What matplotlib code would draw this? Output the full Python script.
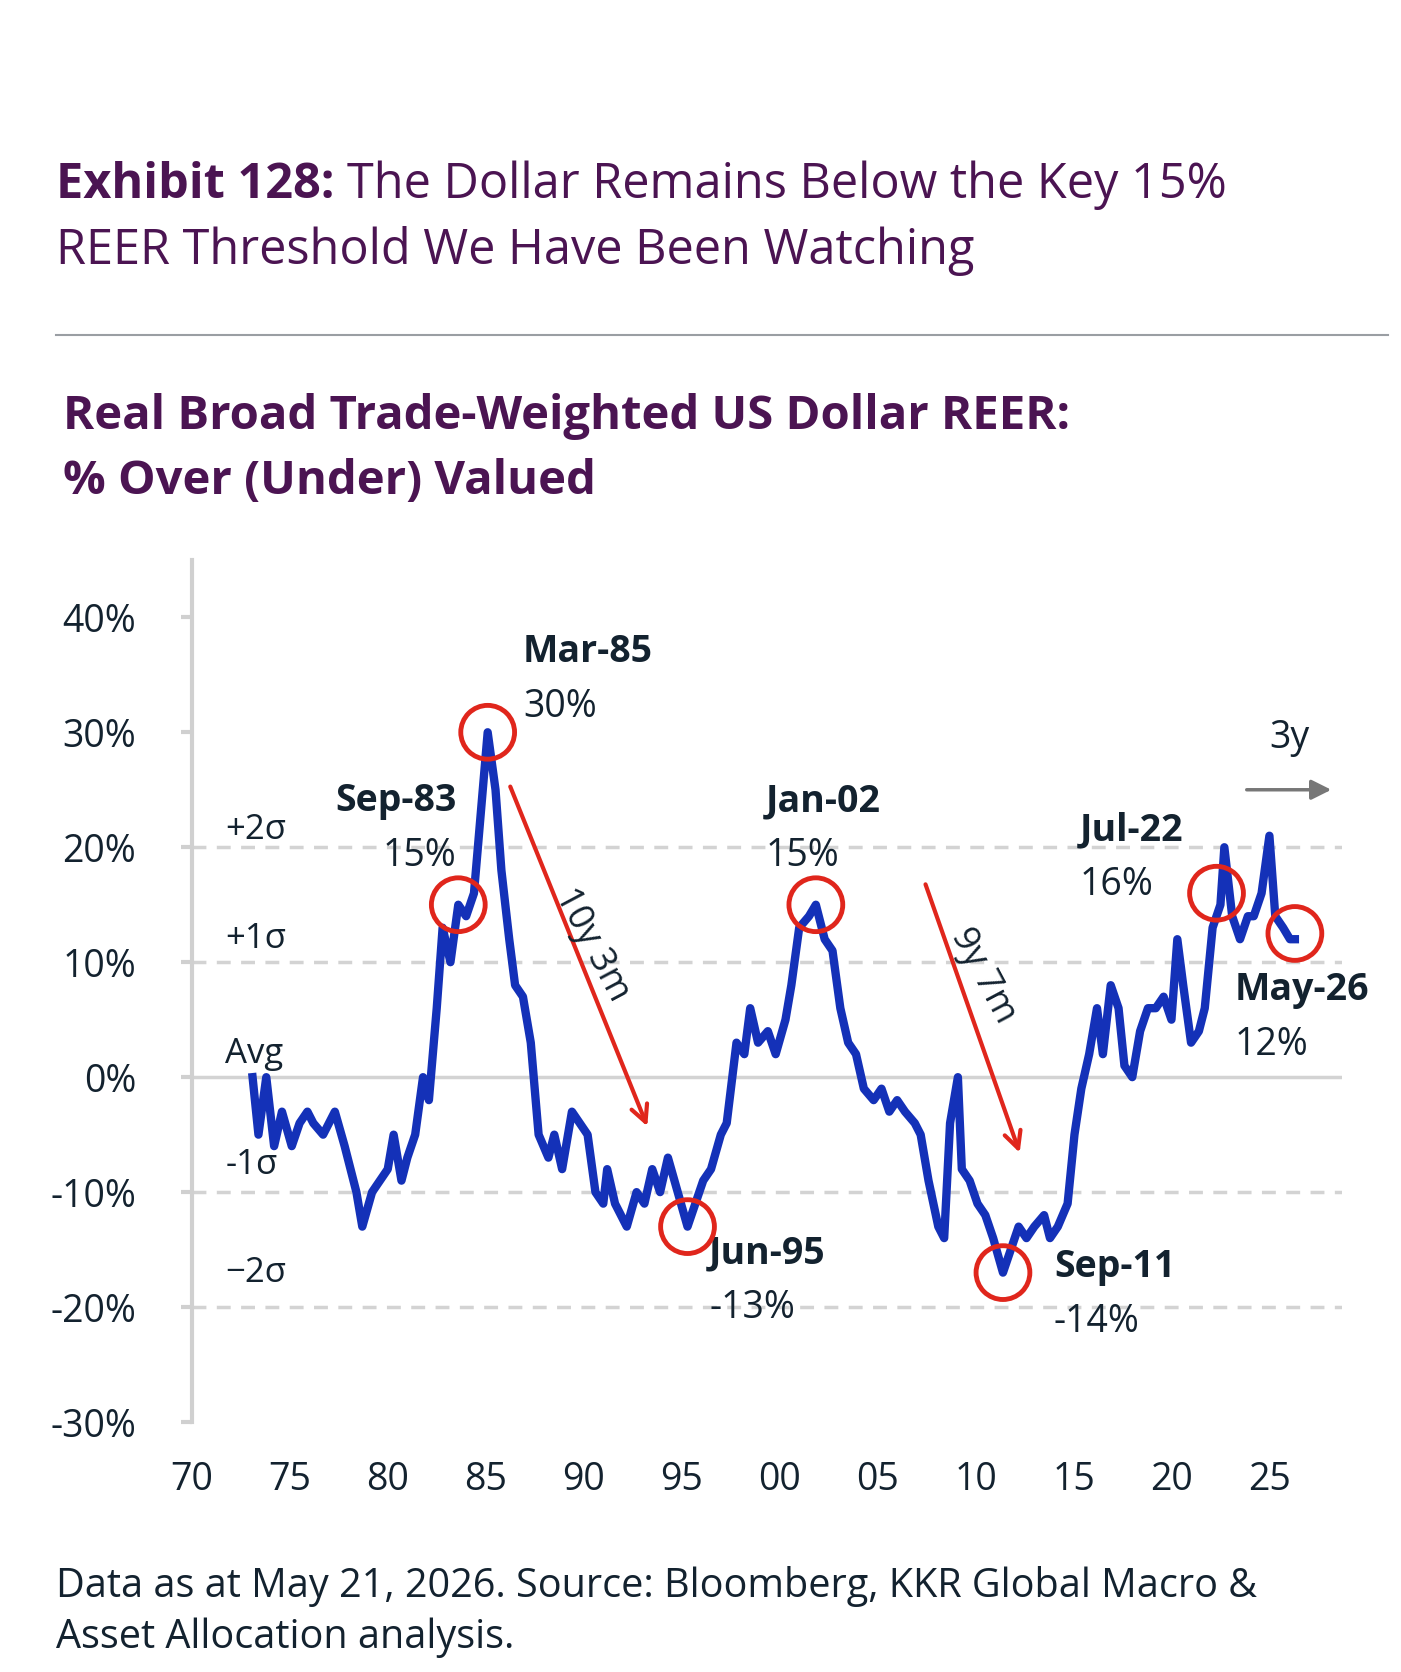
import matplotlib
matplotlib.use("Agg")
import matplotlib.pyplot as plt

years = [73.1,73.4,73.8,74.2,74.6,75.1,75.5,75.9,76.2,76.7,77.3,77.8,78.4,78.7,79.2,79.6,80.0,80.3,80.7,81.0,81.4,81.8,82.1,82.5,82.8,83.2,83.6,84.0,84.4,84.7,85.1,85.5,85.8,86.2,86.5,86.9,87.3,87.7,88.2,88.5,88.9,89.4,89.8,90.2,90.6,91.0,91.2,91.6,92.2,92.7,93.1,93.5,93.9,94.3,94.8,95.3,95.7,96.1,96.5,97.0,97.3,97.8,98.2,98.5,98.9,99.4,99.8,100.3,100.6,101.0,101.5,101.85,102.3,102.7,103.1,103.5,103.9,104.3,104.8,105.2,105.6,106.0,106.4,106.9,107.2,107.6,108.1,108.4,108.7,109.1,109.3,109.7,110.1,110.5,110.9,111.4,111.8,112.2,112.6,113.0,113.5,113.8,114.2,114.7,115.05,115.4,115.8,116.2,116.5,116.9,117.3,117.6,118.0,118.4,118.8,119.2,119.6,120.0,120.3,120.6,121.0,121.4,121.7,122.1,122.5,122.7,123.1,123.5,123.9,124.2,124.6,125.0,125.3,125.7,126.05,126.3]
values = [0,-5,0,-6,-3,-6,-4,-3,-4,-5,-3,-6,-10,-13,-10,-9,-8,-5,-9,-7,-5,0,-2,6,13,10,15,14,16,22,30,25,18,12,8,7,3,-5,-7,-5,-8,-3,-4,-5,-10,-11,-8,-11,-13,-10,-11,-8,-10,-7,-10,-13,-11,-9,-8,-5,-4,3,2,6,3,4,2,5,8,13,14,15,12,11,6,3,2,-1,-2,-1,-3,-2,-3,-4,-5,-9,-13,-14,-4,0,-8,-9,-11,-12,-14,-17,-15,-13,-14,-13,-12,-14,-13,-11,-5,-1,2,6,2,8,6,1,0,4,6,6,7,5,12,8,3,4,6,13,15,20,14,12,14,14,16,21,14,13,12,12]
dates = [1900 + y for y in years]

yticks = [40, 30, 20, 10, 0, -10, -20, -30]
xtick_years = [1970,1975,1980,1985,1990,1995,2000,2005,2010,2015,2020,2025]
xtick_labels = ["70","75","80","85","90","95","00","05","10","15","20","25"]
sigma_labels = [("+2σ", 21.5), ("+1σ", 12), ("Avg", 2), ("-1σ", -7.6), ("−2σ", -17)]
circle_x = [1983.6, 1985.1, 1995.3, 2001.85, 2011.4, 2022.3, 2026.3]
circle_y = [15, 30, -13, 15, -17, 16, 12.5]
callout_labels = ["Sep-83", "Mar-85", "Jun-95", "Jan-02", "Sep-11", "Jul-22", "May-26"]
callout_values = ["15%", "30%", "-13%", "15%", "-14%", "16%", "12%"]

plt.rcParams['font.family'] = ['Open Sans', 'DejaVu Sans']
W, H = 1300, 1552
fig = plt.figure(figsize=(14.01, 16.72), dpi=100)
purple = "#4b1452"
dark = "#13222f"

def fx(px): return px / W
def fy(py): return 1 - py / H

t1 = fig.text(fx(52), fy(172), "Exhibit 128:", fontsize=35, fontweight='bold', color=purple, va='center')
r = fig.canvas.get_renderer()
bb = t1.get_window_extent(r)
fig.text((bb.x1 + 12) / fig.bbox.width, fy(172), "The Dollar Remains Below the Key 15%", fontsize=35, color=purple, va='center')
fig.text(fx(52), fy(233), "REER Threshold We Have Been Watching", fontsize=35, color=purple, va='center')
fig.add_artist(plt.Line2D([fx(52), fx(1288)], [fy(311), fy(311)], color="#9a9ea3", lw=1.5))
fig.text(fx(58), fy(387), "Real Broad Trade-Weighted US Dollar REER:", fontsize=34, fontweight='bold', color=purple, va='center')
fig.text(fx(58), fy(447), "% Over (Under) Valued", fontsize=34, fontweight='bold', color=purple, va='center')
fig.text(fx(52), fy(1473), "Data as at May 21, 2026. Source: Bloomberg, KKR Global Macro &", fontsize=28.5, color=dark, va='center')
fig.text(fx(52), fy(1520), "Asset Allocation analysis.", fontsize=28.5, color=dark, va='center')

ax = fig.add_axes([fx(178), fy(1320), fx(1245) - fx(178), fy(520) - fy(1320)])
xmin = 1970
xmax = 1970 + (1245 - 178) / 18.18
ax.set_xlim(xmin, xmax)
ax.set_ylim(-30, 40 + (573 - 520) / 10.67)
for s in ['top', 'right', 'bottom']:
    ax.spines[s].set_visible(False)
ax.spines['left'].set_color("#d0d0d0")
ax.spines['left'].set_linewidth(3)
ax.set_yticks(yticks)
ax.set_yticklabels([f"{v}%" for v in yticks], fontsize=27, color=dark)
ax.tick_params(axis='y', length=8, width=3, color="#d0d0d0", pad=32)
ax.set_xticks(xtick_years)
ax.set_xticklabels(xtick_labels, fontsize=27, color=dark)
ax.tick_params(axis='x', length=0, pad=28)

for lvl in [20, 10, -10, -20]:
    ax.axhline(lvl, color="#d3d3d3", lw=2.5, ls=(0, (4, 3)), zorder=1)
ax.axhline(0, color="#d3d3d3", lw=2.5, zorder=1)
for t, v in sigma_labels:
    ax.text(1971.7, v, t, fontsize=25, color=dark, va='center')

ax.plot(dates, values, color="#1431b8", lw=6, zorder=3)
ax.scatter(circle_x, circle_y, s=1500, facecolors='none', edgecolors="#e0261c", linewidths=3.5, zorder=4)

label_pos = [(1983.5, 24, 'right'), (1986.9, 37, 'left'), (1996.4, -15.3, 'left'),
             (1999.3, 24, 'left'), (2014.0, -16.5, 'left'), (2015.3, 21.5, 'left'), (2023.2, 7.6, 'left')]
for lab, val, (x, y, ha) in zip(callout_labels, callout_values, label_pos):
    ax.text(x, y, lab, fontsize=27, fontweight='bold', color=dark, ha=ha, va='center')
    ax.text(x, y - 4.8, val, fontsize=27, color=dark, ha=ha, va='center')

ax.annotate("", xy=(1993.3, -4.5), xytext=(1986.2, 25.5),
            arrowprops=dict(arrowstyle='->', color="#e0261c", lw=3, mutation_scale=30))
ax.text(1990.4, 11.5, "10y 3m", fontsize=26, color=dark, rotation=-62, ha='center', va='center')
ax.annotate("", xy=(2012.3, -6.8), xytext=(2007.4, 17),
            arrowprops=dict(arrowstyle='->', color="#e0261c", lw=3, mutation_scale=30))
ax.text(2010.4, 8.8, "9y 7m", fontsize=26, color=dark, rotation=-62, ha='center', va='center')
ax.annotate("", xy=(2028.3, 25), xytext=(2023.7, 25),
            arrowprops=dict(arrowstyle='-|>', color="#777777", lw=2.5, mutation_scale=30))
ax.text(2026.0, 29.5, "3y", fontsize=27, color=dark, ha='center', va='center')

fig.savefig("out.png", dpi=100)
